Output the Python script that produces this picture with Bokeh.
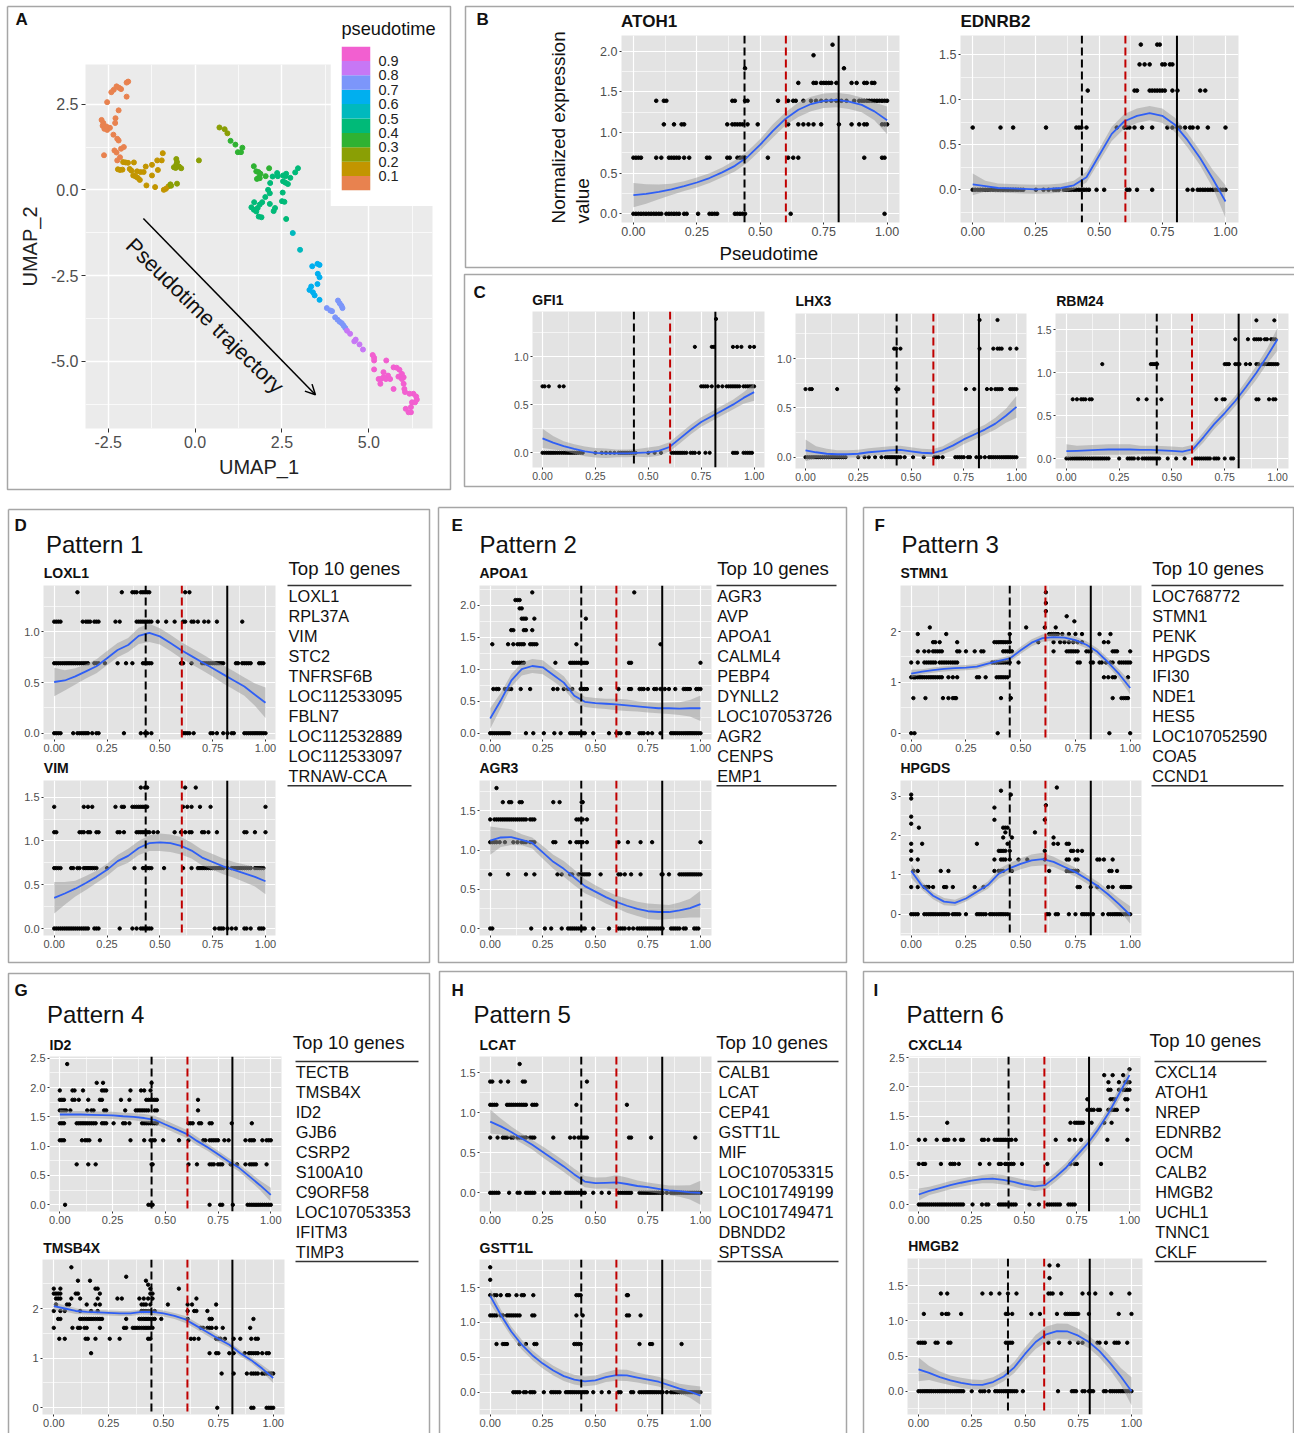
import math

from bokeh.core.properties import value
from bokeh.embed import file_html
from bokeh.models import (Arrow, Column, FixedTicker, GridBox, OpenHead,
                          PrintfTickFormatter, Range1d, Span)
from bokeh.plotting import figure
from bokeh.resources import INLINE

FONT = "Liberation Sans"

# UMAP clusters, one entry per legend bin
LEGEND_LOW = [0.0, 0.1, 0.2, 0.3, 0.4, 0.5, 0.6, 0.7, 0.8, 0.9]
LEGEND_COLORS = ["#E8824F", "#C29500", "#8A9F05", "#2FB232", "#00BA78",
                 "#00B9BD", "#00AFEF", "#7C96FA", "#C777F5", "#F25FD0"]
LEGEND_TICKS = [0.1, 0.2, 0.3, 0.4, 0.5, 0.6, 0.7, 0.8, 0.9]

UMAP1_BY_BIN = [
    [-1.925, -1.97, -2.19, -2.13, -2.26, -2.34, -2.41, -2.53, -1.97, -2.20, -2.29, -2.30, -2.69, -2.64, -2.66,
     -2.61, -2.53, -2.45, -2.55, -2.35, -2.24, -2.20, -2.05, -2.13, -2.32, -2.26, -2.62, -2.16, -2.24],
    [-2.07, -2.00, -1.93, -1.76, -2.22, -2.16, -2.09, -1.88, -1.83, -1.67, -1.57, -1.48, -1.42, -1.24, -1.09,
     -0.93, -0.96, -1.07, -1.24, -1.78, -1.71, -1.65, -1.59, -1.40, -1.15, -0.90, -0.84, -0.77],
    [-0.71, -0.69, -0.52, -0.54, -0.52, -0.54, -0.52, -0.61, -0.56, -0.46, -0.40, 0.11, 0.70, 0.85, 0.93],
    [1.02, 1.16, 1.23, 1.32, 1.36, 1.69, 1.76, 1.82, 1.78, 1.84, 1.88, 1.86, 2.03, 2.13],
    [2.16, 2.23, 2.36, 2.38, 2.53, 2.62, 2.60, 2.88, 2.96, 2.74, 2.53, 2.60, 2.67, 2.10, 2.15, 2.52, 1.93, 2.02,
     1.70, 2.15, 2.50, 2.57, 1.62, 1.69, 1.76, 1.80, 1.86, 1.83, 1.91, 2.30, 2.26, 2.62],
    [2.81, 3.02],
    [3.37, 3.52, 3.58, 3.53, 3.58, 3.52, 3.34, 3.29, 3.39, 3.44, 3.58],
    [3.79, 3.89, 3.94, 4.11, 4.16, 4.21, 4.24, 4.03, 4.10, 4.16, 4.22, 4.27, 4.32],
    [4.37, 4.46, 4.58, 4.62, 4.73, 4.83],
    [5.11, 5.15, 5.15, 5.50, 5.15, 5.71, 5.80, 5.88, 5.95, 6.00, 5.85, 5.42, 5.28, 5.35, 5.42, 5.49, 5.55, 5.61,
     5.33, 5.71, 5.95, 6.00, 6.02, 6.04, 6.17, 6.28, 6.36, 6.38, 6.33, 6.24, 6.21, 6.06, 6.14, 6.21],
]
UMAP2_BY_BIN = [
    [3.16, 3.13, 2.98, 2.94, 3.02, 2.92, 2.85, 2.56, 2.72, 2.32, 2.09, 1.95, 2.04, 1.95, 1.87, 1.78, 1.75, 1.81,
     1.85, 1.61, 1.49, 1.44, 1.25, 1.20, 1.15, 1.09, 1.01, 0.95, 0.86],
    [0.81, 0.80, 0.79, 0.80, 0.60, 0.58, 0.59, 0.61, 0.56, 0.54, 0.52, 0.52, 0.68, 0.73, 0.86, 1.07, 0.86, 0.58,
     0.42, 0.42, 0.39, 0.35, 0.29, 0.13, 0.08, 0.00, 0.03, 0.10],
    [0.16, 0.12, 0.18, 0.90, 0.81, 0.74, 0.69, 0.66, 0.64, 0.68, 0.63, 0.86, 1.82, 1.77, 1.65],
    [1.43, 1.32, 1.10, 1.10, 1.23, 0.69, 0.54, 0.52, 0.32, 0.37, 0.47, 0.34, 0.40, 0.63],
    [0.20, 0.39, 0.49, 0.40, 0.42, 0.47, 0.40, 0.51, 0.63, 0.35, 0.25, 0.21, 0.17, 0.00, -0.10, -0.08, -0.36, -0.21,
     -0.36, -0.41, -0.33, -0.35, -0.51, -0.58, -0.63, -0.53, -0.43, -0.78, -0.80, -0.53, -0.62, -0.85],
    [-1.26, -1.75],
    [-2.23, -2.16, -2.19, -2.45, -2.55, -2.75, -2.82, -2.92, -2.99, -3.08, -3.21],
    [-3.45, -3.52, -3.54, -3.23, -3.31, -3.38, -3.45, -3.72, -3.79, -3.85, -3.89, -3.96, -4.03],
    [-4.11, -4.20, -4.42, -4.37, -4.51, -4.66],
    [-4.82, -4.90, -4.98, -4.98, -5.24, -5.18, -5.19, -5.25, -5.37, -5.47, -5.45, -5.32, -5.52, -5.52, -5.47, -5.52,
     -5.42, -5.52, -5.66, -5.81, -5.52, -5.66, -5.81, -5.90, -5.95, -5.95, -6.03, -6.12, -6.20, -6.20, -6.34, -6.39,
     -6.49, -6.49],
]

# smoother curves and their confidence half widths are read at these pseudotimes
PT_GRID = [0.0, 0.05, 0.1, 0.15, 0.2, 0.25, 0.3, 0.35, 0.4, 0.45, 0.5, 0.55, 0.6, 0.65, 0.7, 0.75, 0.8, 0.85, 0.9, 0.95, 1.0]

# cell points per gene: expression level -> pseudotimes
ATOH1_POINTS = {
    0.0: [0, .01, .02, .03, .04, .05, .06, .07, .08, .09, .10, .11, .13, .14, .15, .16, .17, .18, .20, .21, .255, .30, .31, .32, .33, .40, .41, .42, .43, .44, .62, .99],
    0.69: [0, .01, .02, .03, .09, .11, .14, .15, .16, .17, .18, .20, .22, .29, .30, .37, .38, .41, .42, .43, .44, .53, .61, .63, .65, .91, .98, .99],
    1.1: [.12, .16, .19, .20, .37, .39, .40, .41, .42, .43, .45, .49, .61, .65, .67, .69, .71, .74, .81, .86, .89, .91, .92, .98, .99, 1.0],
    1.39: [.09, .12, .13, .39, .40, .44, .45, .57, .61, .63, .64, .67, .70, .72, .74, .76, .78, .80, .82, .84, .87, .89, .90, .91, .92, .93, .94, .95, .96, .97, .98, .99, 1.0],
    1.61: [.65, .71, .72, .74, .75, .76, .77, .78, .80, .86, .88, .91, .92, .94, .95],
    1.79: [.44, .83],
    1.95: [.71],
    2.08: [.785],
}
ATOH1_CURVE = [.23, .245, .27, .30, .34, .385, .44, .51, .59, .70, .85, 1.02, 1.17, 1.28, 1.35, 1.39, 1.40, 1.38, 1.34, 1.26, 1.15]
ATOH1_SE = [.15, .12, .09, .07, .06, .06, .06, .06, .07, .07, .07, .08, .08, .09, .09, .09, .09, .09, .09, .11, .17]

EDNRB2_POINTS = {
    0.0: [0, .01, .02, .03, .04, .05, .06, .07, .08, .09, .10, .11, .12, .13, .14, .15, .16, .17, .18, .19, .20, .25, .28, .30, .32, .33, .34, .36, .37, .38, .39, .40, .41, .42, .43, .44, .45, .46, .49, .52, .61, .62, .65, .71, .85, .87, .89, .90, .91, .92, .93, .94, .95, .96, .97, .98, .99, 1.0],
    0.69: [0, .11, .16, .29, .41, .42, .43, .45, .57, .60, .61, .62, .64, .67, .71, .77, .79, .81, .82, .84, .86, .87, .89, .93, 1.0],
    1.1: [.455, .64, .65, .70, .71, .72, .73, .74, .75, .76, .79, .81, .90, .92],
    1.39: [.66, .68, .70, .75, .76, .78, .79],
    1.61: [.665, .73, .74],
}
EDNRB2_CURVE = [.06, .04, .02, .015, .01, .005, .01, .02, .05, .14, .38, .62, .76, .82, .85, .82, .72, .55, .35, .12, -.13]
EDNRB2_SE = [.12, .06, .05, .05, .05, .05, .05, .05, .05, .06, .07, .08, .08, .08, .08, .08, .08, .08, .08, .10, .18]

GFI1_POINTS = {
    0.0: [0, .01, .02, .03, .04, .05, .06, .07, .08, .09, .10, .11, .12, .13, .14, .15, .16, .17, .18, .19, .25, .28, .30, .32, .34, .36, .37, .38, .39, .40, .41, .42, .43, .44, .50, .53, .56, .61, .62, .63, .64, .65, .66, .67, .68, .70, .71, .72, .74, .77, .79, .90, .91, .92, .95, .96, .97, .98, .99],
    0.69: [0, .01, .03, .08, .10, .75, .76, .77, .78, .80, .83, .85, .87, .88, .89, .90, .91, .92, .93, .95, .96, .97, .98, .99, 1.0],
    1.1: [.72, .80, .81, .90, .92, .94, .98, 1.0],
    1.39: [.82],
}
GFI1_CURVE = [.15, .105, .07, .04, .015, 0, -.005, -.005, -.005, 0, .005, .02, .06, .15, .24, .32, .38, .44, .50, .57, .63]
GFI1_SE = [.10, .07, .05, .05, .05, .05, .05, .04, .04, .04, .05, .05, .05, .05, .05, .05, .05, .05, .05, .06, .09]

LHX3_POINTS = {
    0.0: [0, .01, .02, .03, .04, .05, .06, .07, .08, .09, .10, .11, .12, .13, .14, .15, .16, .17, .18, .19, .25, .28, .30, .33, .36, .38, .39, .40, .41, .42, .43, .44, .45, .47, .51, .56, .61, .62, .63, .65, .71, .72, .73, .74, .75, .77, .78, .81, .83, .85, .87, .88, .89, .90, .91, .92, .93, .94, .95, .96, .97, .98, .99, 1.0],
    0.69: [0, .02, .03, .15, .43, .44, .76, .80, .86, .88, .90, .91, .92, .93, .97, .98, .99, 1.0],
    1.1: [.42, .43, .45, .825, .89, .91, .92, .93, .97, 1.0],
    1.39: [.825, .91],
}
LHX3_CURVE = [.07, .05, .035, .03, .03, .035, .05, .06, .07, .075, .06, .045, .04, .07, .12, .18, .23, .28, .34, .42, .51]
LHX3_SE = [.11, .06, .05, .04, .04, .04, .04, .04, .04, .04, .04, .04, .04, .04, .05, .05, .05, .05, .06, .07, .11]

RBM24_POINTS = {
    0.0: [0, .01, .02, .03, .04, .05, .06, .07, .08, .09, .10, .11, .12, .13, .14, .15, .16, .17, .18, .19, .20, .25, .29, .30, .31, .32, .34, .36, .37, .38, .39, .40, .41, .42, .43, .44, .48, .52, .56, .61, .62, .63, .64, .65, .66, .67, .68, .70, .71, .72, .75, .78, .79],
    0.69: [.03, .05, .07, .08, .09, .11, .12, .34, .38, .45, .71, .74, .75, .90, .91, .96, .98, .99],
    1.1: [.17, .40, .41, .42, .43, .75, .76, .77, .80, .81, .82, .85, .87, .90, .91, .93, .94, .95, .96, .97, .98, .99, 1.0],
    1.39: [.80, .86, .89, .90, .91, .92, .94, .95, .97, .98, .99],
    1.61: [.90, .985],
}
RBM24_CURVE = [.085, .09, .095, .10, .105, .105, .105, .10, .10, .095, .09, .08, .11, .25, .40, .53, .67, .83, 1.00, 1.19, 1.39]
RBM24_SE = [.08, .06, .06, .06, .06, .06, .06, .05, .05, .05, .05, .05, .05, .06, .06, .06, .06, .07, .08, .09, .13]

LOXL1_POINTS = {
    0.0: [0, .01, .02, .03, .09, .11, .12, .13, .14, .15, .16, .18, .20, .21, .33, .41, .43, .44, .46, .61, .62, .63, .64, .66, .74, .75, .77, .80, .82, .84, .85, .90, .91, .92, .93, .94, .95, .96, .97, .98, .99, 1.0],
    0.69: [0, .01, .02, .03, .04, .05, .06, .07, .08, .09, .10, .11, .12, .13, .14, .15, .16, .19, .20, .21, .24, .30, .34, .37, .42, .43, .44, .45, .46, .60, .61, .65, .70, .71, .72, .73, .74, .75, .76, .77, .78, .79, .80, .86, .87, .89, .90, .91, .92, .93, .97, .98, .99],
    1.1: [0, .01, .02, .03, .135, .15, .16, .17, .19, .20, .21, .29, .31, .39, .40, .41, .42, .43, .44, .45, .46, .49, .53, .57, .61, .62, .65, .66, .68, .71, .73, .77, .89],
    1.39: [.11, .32, .37, .38, .39, .41, .42, .43, .44, .45, .62, .64],
}
LOXL1_CURVE = [.505, .52, .56, .61, .66, .74, .82, .87, .96, .99, .955, .89, .82, .76, .70, .64, .58, .52, .46, .38, .30]
LOXL1_SE = [.14, .10, .08, .07, .07, .07, .07, .07, .08, .09, .08, .08, .08, .08, .08, .08, .09, .09, .09, .11, .15]

VIM_POINTS = {
    0.0: [0, .01, .02, .03, .04, .05, .06, .07, .08, .09, .10, .11, .12, .13, .14, .15, .16, .19, .20, .21, .31, .37, .39, .41, .42, .43, .44, .45, .46, .76, .78, .79, .80, .82, .84, .86, .90, .91, .93, .97, .98, .99],
    0.69: [0, .01, .02, .03, .08, .09, .11, .12, .14, .15, .16, .17, .18, .19, .20, .25, .38, .42, .43, .44, .45, .46, .52, .61, .65, .68, .69, .70, .71, .72, .73, .74, .75, .76, .77, .78, .79, .80, .82, .84, .85, .86, .87, .88, .89, .90, .91, .92, .93, .95, .96, .97, .98, .99],
    1.1: [0, .01, .12, .13, .14, .16, .17, .20, .21, .30, .31, .33, .39, .40, .41, .42, .43, .44, .45, .47, .49, .57, .60, .62, .64, .65, .70, .71, .73, .77, .90, .91, .95, 1.0],
    1.39: [0, .14, .16, .18, .29, .32, .33, .37, .38, .39, .40, .41, .42, .43, .44, .61, .63, .65, .69, .74, 1.0],
    1.61: [.41, .43, .44, .62, .67],
}
VIM_CURVE = [.35, .40, .455, .52, .59, .67, .77, .83, .92, .975, .985, .975, .945, .89, .81, .76, .71, .67, .63, .59, .54]
VIM_SE = [.18, .13, .09, .08, .07, .07, .07, .08, .08, .09, .10, .10, .10, .09, .09, .09, .09, .09, .10, .11, .15]

APOA1_POINTS = {
    0.0: [0, .01, .02, .03, .04, .05, .06, .07, .08, .09, .17, .205, .255, .305, .335, .38, .39, .40, .41, .42, .43, .44, .45, .49, .565, .60, .61, .62, .65, .66, .71, .72, .73, .75, .77, .81, .86, .87, .88, .89, .90, .91, .92, .93, .94, .95, .96, .97, .98, .99, 1.0],
    0.69: [.015, .03, .04, .07, .08, .09, .10, .145, .19, .30, .32, .35, .37, .39, .43, .44, .45, .46, .525, .61, .66, .67, .71, .72, .73, .75, .78, .79, .81, .83, .85, .88, .92, .93, .94, .95, .98, .99, 1.0],
    1.1: [.11, .12, .13, .14, .15, .16, .31, .38, .39, .40, .41, .42, .43, .44, .45, .46, .66, .67, 1.0],
    1.39: [.01, .085, .11, .13, .14, .15, .16, .19, .20, .21, .22, .41, .81],
    1.61: [.10, .11, .16, .17, .20],
    1.79: [.15, .16, .17, .21, .455],
    1.95: [.14, .15],
    2.08: [.12, .13, .14],
    2.2: [.20, .685],
}
APOA1_CURVE = [.23, .51, .82, 1.00, 1.05, 1.03, .91, .79, .585, .49, .47, .46, .45, .435, .42, .405, .39, .39, .385, .39, .39]
APOA1_SE = [.16, .12, .10, .10, .11, .11, .10, .10, .09, .08, .08, .08, .09, .09, .08, .08, .08, .09, .10, .13, .20]

AGR3_POINTS = {
    0.0: [0, .01, .195, .26, .29, .34, .37, .38, .39, .40, .41, .42, .43, .44, .45, .49, .565, .61, .62, .63, .64, .66, .68, .70, .71, .72, .73, .74, .75, .76, .77, .78, .79, .80, .81, .82, .86, .87, .88, .89, .90, .92, .93, .97, .98, .99],
    0.69: [0, .085, .17, .21, .32, .34, .38, .39, .42, .43, .44, .45, .46, .47, .525, .61, .62, .64, .67, .715, .815, .82, .85, .90, .91, .92, .93, .94, .95, .96, .97, .98, .99, 1.0],
    1.1: [0, .01, .02, .03, .045, .07, .11, .13, .15, .16, .17, .19, .20, .21, .30, .31, .38, .41, .42, .43, .44, .46, .61, .655, .715, .77, 1.0],
    1.39: [0, .02, .03, .04, .05, .06, .07, .08, .09, .10, .11, .12, .13, .14, .15, .16, .17, .19, .20, .21, .41, .42, .43, .44, .46],
    1.61: [.06, .09, .10, .14, .15, .30, .33, .435, .44],
    1.79: [.03],
}
AGR3_CURVE = [1.12, 1.16, 1.165, 1.13, 1.09, .97, .85, .76, .65, .54, .47, .40, .34, .29, .25, .22, .21, .21, .23, .26, .31]
AGR3_SE = [.18, .12, .10, .07, .07, .08, .09, .10, .10, .09, .08, .08, .08, .09, .09, .10, .10, .09, .10, .12, .17]

STMN1_POINTS = {
    0.0: [0, .015, .395, .905, 1.0],
    0.69: [.01, .065, .145, .17, .19, .20, .205, .41, .455, .92, .96, .97, .98, .99],
    1.1: [0, .01, .015, .02, .03, .04, .05, .06, .07, .08, .09, .10, .11, .12, .13, .14, .17, .19, .21, .30, .31, .34, .39, .40, .41, .42, .43, .44, .88, .90, .92, .93, .99],
    1.39: [0, .03, .06, .07, .08, .09, .10, .11, .13, .14, .15, .16, .17, .18, .19, .20, .21, .37, .38, .39, .40, .41, .42, .43, .44, .45, .49, .76, .77, .82, .83, .86, .87, .89, .91, .92, .95, .96, .97, .98, .99, 1.0],
    1.61: [.03, .06, .08, .10, .11, .12, .13, .14, .21, .22, .25, .29, .32, .33, .42, .43, .44, .45, .46, .65, .71, .72, .73, .74, .75, .76, .80, .81, .82, .92, .93, .94, 1.0],
    1.79: [.10, .11, .13, .21, .38, .39, .40, .41, .42, .43, .44, .45, .58, .65, .68, .70, .72, .74, .76, .78, .88, .90],
    1.95: [.03, .16, .45, .63, .64, .65, .66, .67, .69, .72, .75, .78, .86, .91],
    2.08: [.085, .525, .61, .66],
    2.2: [.745],
    2.3: [.71],
    2.4: [.615],
    2.56: [.615],
    2.77: [.615],
}
STMN1_CURVE = [1.17, 1.21, 1.24, 1.265, 1.28, 1.29, 1.31, 1.37, 1.42, 1.47, 1.63, 1.78, 1.87, 1.89, 1.88, 1.83, 1.74, 1.60, 1.39, 1.16, .89]
STMN1_SE = [.08, .05, .05, .05, .05, .05, .05, .05, .05, .06, .07, .07, .07, .07, .07, .07, .07, .07, .08, .09, .13]

HPGDS_POINTS = {
    0.0: [0, .01, .02, .03, .06, .07, .08, .09, .10, .11, .12, .13, .14, .15, .16, .17, .19, .20, .21, .22, .25, .30, .31, .32, .33, .34, .36, .37, .38, .39, .40, .41, .42, .43, .44, .62, .63, .66, .67, .72, .75, .78, .79, .80, .81, .83, .875, .90, .91, .92, .93, .94, .95, .96, .97, .98, .99, 1.0],
    0.69: [0, .03, .06, .07, .08, .10, .15, .16, .19, .29, .33, .76, .77, .82, .85, .90, .92, .96, .97, .98, .99, 1.0],
    1.1: [.01, .03, .135, .17, .38, .40, .41, .42, .46, .63, .71, .72, .73, .74, .75, .76, .905, .915, .94],
    1.39: [0, .03, .38, .41, .42, .43, .45, .49, .53, .61, .71, .72, .75, .76, .85, .86, .88, .92],
    1.61: [0, .40, .41, .42, .43, .45, .61, .73, .74, .76, .78],
    1.79: [0, .05, .30, .44, .65, .67, .71, .72],
    1.95: [.42, .46, .65],
    2.08: [.565, .43],
    2.2: [.035, .42, .43, .44],
    2.3: [0],
    2.4: [.38, .61],
    2.48: [0],
    2.71: [.38],
    2.77: [.615],
    2.94: [0],
    3.04: [0, .455],
    3.14: [.41],
    3.22: [.665],
}
HPGDS_CURVE = [1.10, .72, .47, .32, .29, .40, .57, .74, 1.03, 1.17, 1.28, 1.37, 1.40, 1.33, 1.20, 1.07, .90, .72, .50, .25, -.02]
HPGDS_SE = [.18, .10, .09, .09, .08, .08, .08, .09, .12, .13, .14, .15, .16, .13, .12, .11, .11, .11, .12, .15, .22]

ID2_POINTS = {
    0.0: [.025, .42, .43, .44, .71, .76, .77, .82, .89, .90, .91, .92, .93, .94, .95, .96, .97, .98, .99, 1.0],
    0.69: [.08, .135, .17, .435, .44, .61, .65, .71, .72, .73, .75, .76, .77, .81, .84, .88, .90, .91, .92, .93, .98],
    1.1: [0, .01, .02, .105, .12, .13, .14, .19, .335, .40, .43, .44, .45, .49, .565, .61, .68, .69, .71, .72, .73, .74, .75, .78, .80, .88, .90, .91, .92, .96, .98, .99, 1.0],
    1.39: [0, .01, .02, .08, .09, .10, .11, .12, .13, .14, .15, .16, .17, .20, .21, .22, .255, .30, .31, .33, .39, .40, .41, .42, .43, .44, .45, .46, .61, .62, .63, .66, .67, .71, .72, .815, .91],
    1.61: [0, .01, .02, .03, .05, .13, .15, .16, .21, .22, .31, .36, .37, .38, .39, .40, .41, .42, .45, .46, .655],
    1.79: [0, .01, .02, .06, .07, .09, .135, .19, .20, .29, .33, .41, .42, .43, .44, .45, .46, .655],
    1.95: [0, .06, .07, .11, .20, .21, .22, .335, .385, .40, .43],
    2.08: [.175, .205, .435],
    2.4: [.035],
}
ID2_CURVE = [1.54, 1.54, 1.54, 1.535, 1.53, 1.525, 1.51, 1.50, 1.48, 1.45, 1.37, 1.29, 1.21, 1.09, .98, .86, .74, .63, .48, .33, .17]
ID2_SE = [.08, .06, .06, .06, .06, .06, .06, .06, .07, .07, .07, .07, .07, .07, .06, .06, .06, .06, .07, .08, .12]

TMSB4X_POINTS = {
    0.0: [.745, .90, .91, .97, .98, .99, 1.0],
    0.69: [.765, .82, .88, .90, .91, .92, .93, .95, .96, .97, .98, .99, 1.0],
    1.1: [.17, .71, .74, .75, .80, .82, .87, .89, .90, .91, .92, .93, .95, .97, .98],
    1.39: [.025, .05, .145, .155, .19, .255, .30, .43, .44, .625, .64, .66, .74, .75, .76, .78, .82, .85, .90, .92, .93],
    1.61: [0, .085, .11, .12, .14, .15, .21, .32, .33, .36, .37, .38, .39, .40, .41, .42, .43, .44, .45, .67, .68, .70, .71, .72, .74, .77, .895],
    1.79: [.02, .03, .12, .13, .14, .15, .16, .17, .18, .19, .20, .21, .22, .33, .39, .40, .41, .42, .43, .44, .45, .46, .49, .61, .71, .72, .91],
    1.95: [0, .03, .05, .12, .17, .20, .40, .41, .42, .43, .44, .46, .61, .64, .65, .70],
    2.08: [.01, .06, .07, .15, .19, .21, .40, .41, .42, .44, .52, .61, .63, .74],
    2.2: [.01, .02, .03, .08, .12, .20, .29, .31, .39, .41, .43, .45, .65],
    2.3: [0, .01, .02, .03, .10, .11, .21, .44, .45],
    2.4: [0, .03, .19, .20, .44, .57],
    2.48: [.43],
    2.56: [.11, .165, .42],
    2.64: [.33],
    2.83: [.08],
}
TMSB4X_CURVE = [2.05, 2.00, 1.95, 1.93, 1.92, 1.91, 1.90, 1.90, 1.93, 1.93, 1.90, 1.85, 1.78, 1.65, 1.52, 1.39, 1.27, 1.10, .96, .79, .60]
TMSB4X_SE = [.08, .06, .06, .05, .05, .05, .05, .05, .05, .06, .06, .06, .07, .07, .07, .07, .06, .06, .06, .07, .10]

LCAT_POINTS = {
    0.0: [0, .01, .02, .03, .04, .09, .13, .14, .17, .18, .19, .20, .21, .255, .29, .30, .31, .32, .33, .36, .37, .38, .39, .40, .41, .42, .43, .44, .45, .49, .53, .565, .61, .62, .63, .64, .65, .66, .67, .71, .72, .73, .74, .75, .76, .77, .78, .79, .80, .81, .82, .84, .86, .87, .88, .89, .90, .91, .92, .93, .94, .95, .96, .97, .98, .99, 1.0],
    0.69: [0, .035, .06, .07, .08, .10, .11, .13, .14, .15, .16, .17, .19, .20, .21, .30, .38, .40, .42, .43, .44, .45, .46, .66, .67, .765, .975],
    1.1: [0, .01, .02, .03, .08, .09, .10, .11, .12, .13, .14, .15, .16, .17, .20, .21, .22, .41, .65],
    1.39: [0, .01, .05, .085, .155, .165, .46],
    1.61: [.14],
}
LCAT_CURVE = [.89, .83, .76, .68, .60, .51, .42, .33, .23, .14, .12, .125, .13, .11, .085, .07, .05, .03, .02, .005, 0]
LCAT_SE = [.15, .10, .07, .06, .06, .07, .07, .07, .07, .07, .07, .07, .09, .08, .07, .06, .06, .06, .07, .09, .15]

GSTT1L_POINTS = {
    0.0: [.11, .12, .13, .14, .16, .17, .19, .20, .21, .255, .29, .30, .31, .32, .33, .36, .37, .38, .39, .40, .41, .42, .43, .44, .45, .46, .49, .53, .565, .61, .62, .67, .68, .71, .72, .73, .74, .75, .76, .77, .78, .79, .80, .81, .82, .84, .86, .87, .88, .89, .90, .91, .92, .93, .94, .95, .96, .97, .98, .99, 1.0],
    0.69: [.03, .06, .07, .08, .14, .17, .21, .22, .40, .41, .42, .43, .71, .76, .77, .91],
    1.1: [0, .01, .02, .03, .05, .06, .08, .09, .10, .11, .12, .13, .14, .20, .21, .41, .44, .65, .66, .715],
    1.39: [0, .02, .03, .05, .08, .09, .125, .15, .16, .205, .41, .42, .43, .65, .655],
    1.61: [0],
    1.79: [0],
}
GSTT1L_CURVE = [1.38, 1.11, .87, .68, .53, .41, .31, .23, .18, .155, .17, .215, .245, .24, .21, .18, .15, .10, .05, .01, -.05]
GSTT1L_SE = [.11, .08, .07, .07, .07, .07, .07, .07, .07, .07, .07, .07, .08, .08, .07, .07, .07, .07, .07, .09, .13]

CXCL14_POINTS = {
    0.0: [0, .01, .02, .03, .04, .05, .06, .07, .08, .09, .10, .11, .12, .13, .14, .15, .16, .17, .18, .19, .20, .21, .255, .30, .32, .33, .38, .39, .40, .41, .42, .43, .44, .45, .46, .525, .57, .61, .62, .63, .64, .65, .66, .67, .71, .72, .73, .74],
    0.69: [0, .02, .03, .105, .15, .16, .17, .19, .29, .335, .38, .39, .41, .42, .43, .44, .45, .49, .61, .72, .74, .75, .865],
    1.1: [0, .03, .085, .12, .13, .14, .17, .20, .21, .30, .31, .33, .36, .37, .38, .39, .40, .41, .42, .43, .44, .46, .65, .715, .74, .77, .895, .99],
    1.39: [.135, .72, .74, .75, .76, .77, .78, .82, .88, .915],
    1.61: [.80, .81, .82, .83, .85, .86, .90, .91, .92, .93, .94, .99],
    1.79: [.80, .91, .92, .93, .98, .99],
    1.95: [.90, .91, .95, .97, .98, .99, 1.0],
    2.08: [.90, .95, .98, .99, 1.0],
    2.2: [.88, .92, .97],
    2.3: [1.0],
}
CXCL14_CURVE = [.17, .23, .28, .33, .37, .405, .43, .44, .42, .385, .34, .31, .33, .47, .63, .83, 1.03, 1.27, 1.55, 1.88, 2.20]
CXCL14_SE = [.10, .07, .07, .07, .07, .07, .07, .08, .08, .08, .08, .08, .08, .08, .08, .09, .09, .09, .09, .10, .13]

HMGB2_POINTS = {
    0.0: [0, .01, .02, .03, .04, .05, .06, .07, .08, .09, .10, .11, .12, .13, .14, .15, .16, .17, .18, .19, .20, .21, .25, .29, .30, .31, .33, .36, .37, .38, .39, .40, .41, .42, .43, .44, .45, .46, .49, .655, .72, .73, .74, .77, .78, .80, .81, .82, .87, .88, .90, .91, .92, .93, .94, .95, .96, .97, .98, .99, 1.0],
    0.69: [0, .01, .02, .03, .08, .09, .14, .15, .41, .42, .43, .44, .61, .66, .71, .75, .77, .84, .85, .88, .92, .93, .94, .98],
    1.1: [.025, .11, .13, .14, .20, .41, .42, .44, .53, .57, .65, .69, .70, .71, .72, .73, .74, .75, .80, .94, 1.0],
    1.39: [.105, .135, .30, .34, .38, .42, .46, .61, .62, .63, .67, .77, .80, .83, .905, .99],
    1.61: [.615],
    1.79: [.615, .655],
}
HMGB2_CURVE = [.31, .26, .20, .155, .12, .095, .09, .13, .21, .34, .53, .70, .81, .855, .85, .79, .70, .57, .40, .21, 0]
HMGB2_SE = [.17, .10, .08, .07, .07, .07, .07, .07, .07, .08, .09, .10, .11, .11, .11, .10, .09, .09, .10, .12, .20]

PATTERN1_GENES = ["LOXL1", "RPL37A", "VIM", "STC2", "TNFRSF6B", "LOC112533095", "FBLN7", "LOC112532889", "LOC112533097", "TRNAW-CCA"]
PATTERN2_GENES = ["AGR3", "AVP", "APOA1", "CALML4", "PEBP4", "DYNLL2", "LOC107053726", "AGR2", "CENPS", "EMP1"]
PATTERN3_GENES = ["LOC768772", "STMN1", "PENK", "HPGDS", "IFI30", "NDE1", "HES5", "LOC107052590", "COA5", "CCND1"]
PATTERN4_GENES = ["TECTB", "TMSB4X", "ID2", "GJB6", "CSRP2", "S100A10", "C9ORF58", "LOC107053353", "IFITM3", "TIMP3"]
PATTERN5_GENES = ["CALB1", "LCAT", "CEP41", "GSTT1L", "MIF", "LOC107053315", "LOC101749199", "LOC101749471", "DBNDD2", "SPTSSA"]
PATTERN6_GENES = ["CXCL14", "ATOH1", "NREP", "EDNRB2", "OCM", "CALB2", "HMGB2", "UCHL1", "TNNC1", "CKLF"]

X_TICKS = [0, 0.25, 0.5, 0.75, 1.0]
X_MINOR = [0.125, 0.375, 0.625, 0.875]


# page backdrop in image pixels: panel boxes, titles, gene lists
bg = figure(width=1294, height=1433, x_range=Range1d(0, 1294), y_range=Range1d(1433, 0),
            x_axis_type=None, y_axis_type=None, toolbar_location=None, output_backend="svg",
            min_border=0, outline_line_color=None)


def label(x, y, text, size, bold=False, angle=0):
    # the svg text sits centred on its anchor, so move the anchor off the baseline
    if angle:
        x -= 0.36 * size
    else:
        y -= 0.36 * size
    bg.text([x], [y], [text], text_font=value(FONT), text_font_size=f"{size}px",
            text_font_style="bold" if bold else "normal", text_color="#111111",
            text_baseline="alphabetic", text_align="left", angle=angle)


def box(xs, ys):
    bg.line(xs, ys, line_color="#A6A6A6", line_width=1.5)


box([7, 450, 450, 7, 7], [6, 6, 489, 489, 6])
box([1294, 465, 465, 1294], [6, 6, 267, 267])
box([1294, 464, 464, 1294], [274, 274, 486, 486])
box([8, 429, 429, 8, 8], [509, 509, 962, 962, 509])
box([438, 846, 846, 438, 438], [507, 507, 962, 962, 507])
box([863, 1293, 1293, 863, 863], [507, 507, 962, 962, 507])
box([8, 8, 429, 429], [1433, 973, 973, 1433])
box([439, 439, 846, 846], [1433, 971, 971, 1433])
box([863, 863, 1293, 1293], [1433, 971, 971, 1433])

for letter, x, y in [("A", 15, 25), ("B", 476, 25), ("C", 473, 298), ("D", 14, 531), ("E", 451, 531),
                     ("F", 874, 531), ("G", 14, 996), ("H", 451, 996), ("I", 873, 996)]:
    label(x, y, letter, 17, bold=True)

for name, x, y in [("Pattern 1", 45.5, 553), ("Pattern 2", 479, 553), ("Pattern 3", 901, 553),
                   ("Pattern 4", 46.5, 1023), ("Pattern 5", 473, 1023), ("Pattern 6", 906, 1023)]:
    label(x, y, name, 24)

for name, x, y, size in [("ATOH1", 620.6, 26.7, 17), ("EDNRB2", 960, 26.7, 17), ("GFI1", 531.8, 304.3, 14),
                         ("LHX3", 795, 306, 14), ("RBM24", 1055.7, 306, 14), ("LOXL1", 43.3, 577.7, 14),
                         ("VIM", 43.3, 773, 14), ("APOA1", 479, 577.7, 14), ("AGR3", 479, 773, 14),
                         ("STMN1", 900, 577.7, 14), ("HPGDS", 900, 773, 14), ("ID2", 49, 1049.7, 14),
                         ("TMSB4X", 42.7, 1252.7, 14), ("LCAT", 479, 1049.7, 14), ("GSTT1L", 479, 1252.7, 14),
                         ("CXCL14", 907.7, 1049.7, 14), ("HMGB2", 907.7, 1251, 14)]:
    label(x, y, name, size, bold=True)

label(565, 223, "Normalized  expression", 18.9, angle=math.pi / 2)
label(589, 223, "value", 18.9, angle=math.pi / 2)
label(719, 260, "Pseudotime", 18.7)


def gene_list(genes, head_x, head_y, list_x, rule_x0, rule_x1, rule_y, first_y, last_rule_y):
    label(head_x, head_y, "Top 10 genes", 18.6)
    bg.line([rule_x0, rule_x1], [rule_y, rule_y], line_color="#333333", line_width=1.5)
    for i, g in enumerate(genes):
        label(list_x, first_y + i * 20, g, 16.3)
    bg.line([rule_x0, rule_x1], [last_rule_y, last_rule_y], line_color="#333333", line_width=1.5)


gene_list(PATTERN1_GENES, 288, 575, 288, 287, 411, 585, 601.7, 785.3)
gene_list(PATTERN2_GENES, 716.7, 575, 716.7, 716, 836, 585, 601.7, 785.3)
gene_list(PATTERN3_GENES, 1151.7, 575, 1151.7, 1151, 1283, 585, 601.7, 785.3)
gene_list(PATTERN4_GENES, 292.3, 1048.3, 295.3, 295, 418, 1061, 1077.7, 1261)
gene_list(PATTERN5_GENES, 715.7, 1048.3, 718, 717, 838, 1061, 1077.7, 1261)
gene_list(PATTERN6_GENES, 1149, 1047, 1154.7, 1154, 1266, 1061, 1077.7, 1261)


def gene_plot(points, curve, se, frame, x_px, y_ref, y_ticks, lines, y_fmt="%.1f", font=11, dot=3.4):
    left, right, top, bottom = [round(v) for v in frame]
    pad_l, pad_r, pad_t, pad_b = 40, 6, 3, 19
    x_unit = x_px[1] - x_px[0]
    (v0, p0), (v1, p1) = y_ref
    y_unit = (p0 - p1) / (v1 - v0)
    p = figure(width=right - left + pad_l + pad_r, height=bottom - top + pad_t + pad_b,
               x_range=Range1d((left - x_px[0]) / x_unit, (right - x_px[0]) / x_unit),
               y_range=Range1d(v0 - (bottom - p0) / y_unit, v0 + (p0 - top) / y_unit),
               toolbar_location=None, output_backend="svg",
               min_border_left=pad_l, min_border_right=pad_r, min_border_top=pad_t, min_border_bottom=pad_b,
               background_fill_color="#E3E3E3", border_fill_color=None, outline_line_color=None,
               margin=(top - pad_t, 0, 0, left - pad_l))

    step = y_ticks[1] - y_ticks[0]
    y_minor = [t + step / 2 for t in [y_ticks[0] - step] + y_ticks]
    x_ticker = FixedTicker(ticks=X_TICKS, minor_ticks=X_MINOR)
    y_ticker = FixedTicker(ticks=y_ticks, minor_ticks=y_minor)
    p.xaxis.ticker = x_ticker
    p.yaxis.ticker = y_ticker
    p.xgrid.ticker = x_ticker
    p.ygrid.ticker = y_ticker
    p.xaxis.formatter = PrintfTickFormatter(format="%.2f")
    p.yaxis.formatter = PrintfTickFormatter(format=y_fmt)
    for grid in (p.xgrid, p.ygrid):
        grid.grid_line_color = "white"
        grid.grid_line_width = 1.2
        grid.minor_grid_line_color = "white"
        grid.minor_grid_line_width = 0.6
    for axis in (p.xaxis, p.yaxis):
        axis.axis_line_color = None
        axis.major_tick_line_color = "#333333"
        axis.major_tick_out = 2
        axis.major_tick_in = 0
        axis.minor_tick_out = 0
        axis.minor_tick_in = 0
        axis.major_label_standoff = 2
        axis.major_label_text_font = FONT
        axis.major_label_text_font_size = f"{font}px"
        axis.major_label_text_color = "#4D4D4D"

    xs, ys = [], []
    for level, times in points.items():
        xs += times
        ys += [level] * len(times)
    p.scatter(xs, ys, size=dot, color="black")
    p.varea(PT_GRID, [c - s for c, s in zip(curve, se)], [c + s for c, s in zip(curve, se)],
            fill_color="#999999", fill_alpha=0.5)
    p.line(PT_GRID, curve, line_color="#2F5FF5", line_width=1.8)
    p.add_layout(Span(location=lines[0], dimension="height", line_color="black", line_width=2, line_dash="8 4"))
    p.add_layout(Span(location=lines[1], dimension="height", line_color="#C00000", line_width=2, line_dash="8 4"))
    p.add_layout(Span(location=lines[2], dimension="height", line_color="black", line_width=2))
    return p


GENE_FIGS = [
    gene_plot(ATOH1_POINTS, ATOH1_CURVE, ATOH1_SE, (620.6, 898.8, 35, 221.7), (632.9, 886.6), ((0, 213.3), (2, 50.7)),
              [0, .5, 1, 1.5, 2], (.438, .601, .809), font=12.5, dot=3.6),
    gene_plot(EDNRB2_POINTS, EDNRB2_CURVE, EDNRB2_SE, (960, 1238, 35, 221.7), (972.2, 1225), ((0, 189.3), (1.5, 54)),
              [0, .5, 1, 1.5], (.432, .604, .808), font=12.5, dot=3.6),
    gene_plot(GFI1_POINTS, GFI1_CURVE, GFI1_SE, (531.8, 764, 310.7, 466.7), (542, 753.6), ((0, 452.3), (1, 356)),
              [0, .5, 1], (.432, .603, .817), font=10.5, dot=3.2),
    gene_plot(LHX3_POINTS, LHX3_CURVE, LHX3_SE, (795, 1026, 312.7, 468), (805, 1016), ((0, 456.7), (1, 358)),
              [0, .5, 1], (.432, .606, .822), font=10.5, dot=3.2),
    gene_plot(RBM24_POINTS, RBM24_CURVE, RBM24_SE, (1054.7, 1287.6, 312.7, 468), (1065.9, 1277), ((0, 458), (1.5, 329.3)),
              [0, .5, 1, 1.5], (.428, .595, .816), font=10.5, dot=3.2),
    gene_plot(LOXL1_POINTS, LOXL1_CURVE, LOXL1_SE, (43.3, 275.3, 584.7, 739.3), (53.7, 265), ((0, 732.7), (1, 631.3)),
              [0, .5, 1], (.433, .604, .819)),
    gene_plot(VIM_POINTS, VIM_CURVE, VIM_SE, (43.3, 275.3, 780, 934.7), (53.7, 265), ((0, 928), (1.5, 796.7)),
              [0, .5, 1, 1.5], (.433, .604, .819)),
    gene_plot(APOA1_POINTS, APOA1_CURVE, APOA1_SE, (479, 711, 584.7, 739.3), (489.7, 700), ((0, 732.7), (2, 604.7)),
              [0, .5, 1, 1.5, 2], (.433, .60, .818)),
    gene_plot(AGR3_POINTS, AGR3_CURVE, AGR3_SE, (479, 711, 780, 934.7), (489.7, 700), ((0, 928), (1.5, 810.3)),
              [0, .5, 1, 1.5], (.433, .60, .818)),
    gene_plot(STMN1_POINTS, STMN1_CURVE, STMN1_SE, (899.7, 1141, 584.7, 739.3), (910.7, 1129.7), ((0, 732.7), (2, 631)),
              [0, 1, 2], (.45, .613, .82), y_fmt="%d"),
    gene_plot(HPGDS_POINTS, HPGDS_CURVE, HPGDS_SE, (899.7, 1141, 780, 934.7), (910.7, 1129.7), ((0, 913.7), (3, 795.7)),
              [0, 1, 2, 3], (.45, .613, .82), y_fmt="%d"),
    gene_plot(ID2_POINTS, ID2_CURVE, ID2_SE, (49, 281, 1056.3, 1211), (59.3, 270.3), ((0, 1204.3), (2.5, 1057.7)),
              [0, .5, 1, 1.5, 2, 2.5], (.435, .605, .818)),
    gene_plot(TMSB4X_POINTS, TMSB4X_CURVE, TMSB4X_SE, (42.3, 283.7, 1259.3, 1414), (53.3, 272.7), ((0, 1407.3), (2, 1308)),
              [0, 1, 2], (.445, .609, .814), y_fmt="%d"),
    gene_plot(LCAT_POINTS, LCAT_CURVE, LCAT_SE, (479, 711, 1056.3, 1211), (489.7, 700), ((0, 1192.3), (1.5, 1072.3)),
              [0, .5, 1, 1.5], (.433, .60, .818)),
    gene_plot(GSTT1L_POINTS, GSTT1L_CURVE, GSTT1L_SE, (479, 711, 1259.3, 1414), (489.7, 700), ((0, 1391.7), (1.5, 1287)),
              [0, .5, 1, 1.5], (.433, .60, .818)),
    gene_plot(CXCL14_POINTS, CXCL14_CURVE, CXCL14_SE, (907.7, 1139.7, 1056.3, 1211), (918.3, 1129), ((0, 1204), (2.5, 1057)),
              [0, .5, 1, 1.5, 2, 2.5], (.426, .596, .808)),
    gene_plot(HMGB2_POINTS, HMGB2_CURVE, HMGB2_SE, (907.3, 1142, 1257.7, 1414), (918, 1131), ((0, 1390.7), (1.5, 1285.3)),
              [0, .5, 1, 1.5], (.42, .59, .804)),
]

# panel A: UMAP scatter
umap = figure(width=442, height=425, x_range=Range1d(-3.153, 6.83), y_range=Range1d(-6.964, 3.658),
              toolbar_location=None, output_backend="svg",
              min_border_left=77, min_border_right=18, min_border_top=4, min_border_bottom=57,
              background_fill_color="#EBEBEB", border_fill_color=None, outline_line_color=None,
              margin=(60, 0, 0, 8))
umap_xt = FixedTicker(ticks=[-2.5, 0, 2.5, 5], minor_ticks=[-1.25, 1.25, 3.75, 6.25])
umap_yt = FixedTicker(ticks=[-5, -2.5, 0, 2.5], minor_ticks=[-6.25, -3.75, -1.25, 1.25])
umap.xaxis.ticker = umap_xt
umap.yaxis.ticker = umap_yt
umap.xgrid.ticker = umap_xt
umap.ygrid.ticker = umap_yt
umap.xaxis.formatter = PrintfTickFormatter(format="%.1f")
umap.yaxis.formatter = PrintfTickFormatter(format="%.1f")
umap.xaxis.axis_label = "UMAP_1"
umap.yaxis.axis_label = "UMAP_2"
for grid in (umap.xgrid, umap.ygrid):
    grid.grid_line_color = "white"
    grid.grid_line_width = 1.4
    grid.minor_grid_line_color = "white"
    grid.minor_grid_line_width = 0.7
for axis in (umap.xaxis, umap.yaxis):
    axis.axis_line_color = None
    axis.major_tick_line_color = "#333333"
    axis.major_tick_out = 4
    axis.major_tick_in = 0
    axis.minor_tick_out = 0
    axis.minor_tick_in = 0
    axis.major_label_standoff = 3
    axis.major_label_text_font = FONT
    axis.major_label_text_font_size = "16px"
    axis.major_label_text_color = "#4D4D4D"
    axis.axis_label_text_font = FONT
    axis.axis_label_text_font_size = "20px"
    axis.axis_label_text_font_style = "normal"
    axis.axis_label_text_color = "#222222"
    axis.axis_label_standoff = 5
umap.yaxis.axis_label_standoff = 7

for i, color in enumerate(LEGEND_COLORS):
    umap.scatter(UMAP1_BY_BIN[i], UMAP2_BY_BIN[i], size=5, color=color)

umap.add_layout(Arrow(end=OpenHead(size=10, line_width=1.5, line_color="black"),
                      x_start=-1.488, y_start=-0.837, x_end=3.462, y_end=-5.98,
                      line_width=1.5, line_color="black"))
umap.text([-1.88], [-1.52], ["Pseudotime trajectory"], angle=math.radians(-44.4),
          text_font=value(FONT), text_font_size="21.8px", text_color="#111111",
          text_baseline="alphabetic", text_align="left")

# legend sits on top of the scatter, with its own white corner
legend = figure(width=119, height=198, x_range=Range1d(0, 1), y_range=Range1d(0, 1),
                title="pseudotime", y_axis_location="right", x_axis_type=None,
                toolbar_location=None, output_backend="svg",
                min_border_left=11, min_border_right=79, min_border_top=38, min_border_bottom=16,
                border_fill_color="white", outline_line_color=None,
                margin=(8, 0, 0, 330))
legend.quad(left=0, right=1, bottom=LEGEND_LOW, top=[v + 0.1 for v in LEGEND_LOW],
            fill_color=LEGEND_COLORS, line_color=None)
legend.grid.visible = False
legend.title.text_font = FONT
legend.title.text_font_size = "18.2px"
legend.title.text_font_style = "normal"
legend.title.text_color = "#111111"
legend.title.align = "left"
legend.title.standoff = 15
legend.yaxis.ticker = FixedTicker(ticks=LEGEND_TICKS)
legend.yaxis.formatter = PrintfTickFormatter(format="%.1f")
legend.yaxis.axis_line_color = None
legend.yaxis.major_tick_line_color = None
legend.yaxis.minor_tick_line_color = None
legend.yaxis.major_label_standoff = 2
legend.yaxis.major_label_text_font = FONT
legend.yaxis.major_label_text_font_size = "14.5px"
legend.yaxis.major_label_text_color = "#222222"

children = [bg, umap, legend] + GENE_FIGS
# each figure sits in its own one-child column, so the grid does not align frames
# between figures, and the margins place them on the page
page = GridBox(children=[(Column(children=[f]), 0, 0) for f in children], width=1294, height=1433)

open("out.html", "w").write(file_html(page, INLINE))
